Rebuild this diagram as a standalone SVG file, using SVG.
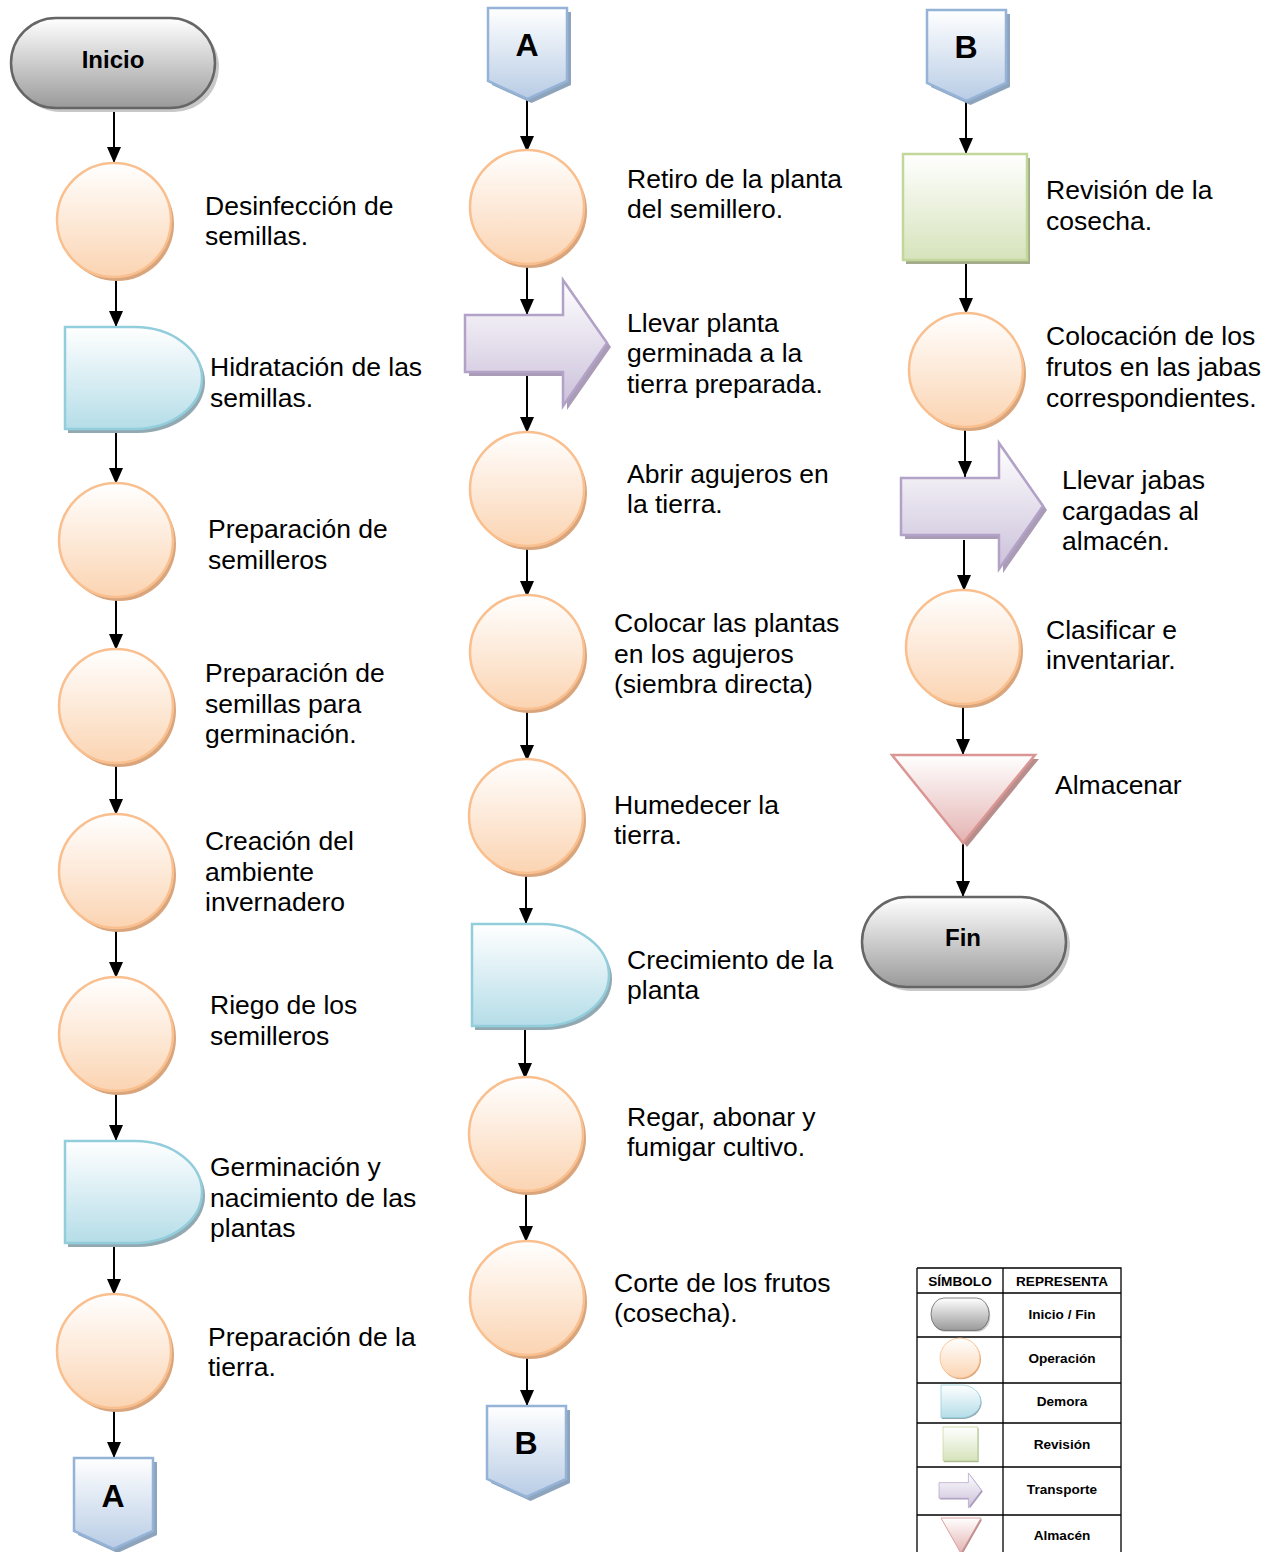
<svg xmlns="http://www.w3.org/2000/svg" xmlns:xlink="http://www.w3.org/1999/xlink" width="1280" height="1552" viewBox="0 0 1280 1552">
<style>
.lbl{font-family:"Liberation Sans",Arial,sans-serif;font-size:26.5px;fill:#000}
.bold{font-family:"Liberation Sans",Arial,sans-serif;font-weight:bold;fill:#000;text-anchor:middle}
.leg{font-family:"Liberation Sans",Arial,sans-serif;font-weight:bold;font-size:13.6px;fill:#000;text-anchor:middle}
.conn line{stroke:#000;stroke-width:2;marker-end:url(#ah)}
.grid{stroke:#000;stroke-width:1.3;fill:none}
</style>
<defs>
<marker id="ah" viewBox="0 0 16 14" refX="16" refY="7" markerWidth="16" markerHeight="14" markerUnits="userSpaceOnUse" orient="auto"><path d="M0,0 L16,7 L0,14 Z" fill="#000"/></marker>
<linearGradient id="gT" x1="0" y1="0" x2="0" y2="1"><stop offset="0" stop-color="#ffffff"/><stop offset="1" stop-color="#9a9a9a"/></linearGradient>
<linearGradient id="gO" x1="0" y1="0" x2="0" y2="1"><stop offset="0" stop-color="#ffffff"/><stop offset="1" stop-color="#fbd4b2"/></linearGradient>
<linearGradient id="gD" x1="0" y1="0" x2="0" y2="1"><stop offset="0" stop-color="#ffffff"/><stop offset="1" stop-color="#b5dde8"/></linearGradient>
<linearGradient id="gR" x1="0" y1="0" x2="0" y2="1"><stop offset="0" stop-color="#ffffff"/><stop offset="1" stop-color="#d6e3bb"/></linearGradient>
<linearGradient id="gP" x1="0" y1="0" x2="0" y2="1"><stop offset="0" stop-color="#ffffff"/><stop offset="1" stop-color="#cbc0da"/></linearGradient>
<linearGradient id="gA" x1="0" y1="0" x2="0" y2="1"><stop offset="0" stop-color="#ffffff"/><stop offset="1" stop-color="#e4b3b2"/></linearGradient>
<linearGradient id="gC" x1="0" y1="0" x2="0" y2="1"><stop offset="0" stop-color="#ffffff"/><stop offset="1" stop-color="#b8cce5"/></linearGradient>
<g id="term"><rect x="4" y="4" width="204" height="90" rx="45" fill="#c8c8c8"/><rect x="0" y="0" width="204" height="90" rx="45" fill="url(#gT)" stroke="#666" stroke-width="2.5"/></g>
<g id="op"><circle cx="3" cy="4" r="57" fill="#d9a57c"/><circle cx="0" cy="0" r="57" fill="url(#gO)" stroke="#f9bf8e" stroke-width="2.5"/></g>
<g id="dem"><path d="M3,4 H73 A67,51 0 0 1 73,106 H3 Z" fill="#92a9b2"/><path d="M0,0 H70 A67,51 0 0 1 70,102 H0 Z" fill="url(#gD)" stroke="#92cddc" stroke-width="2.5"/></g>
<g id="rev"><rect x="3" y="4" width="124" height="106" fill="#a3ab8b"/><rect x="0" y="0" width="124" height="106" fill="url(#gR)" stroke="#c3d69b" stroke-width="2.5"/></g>
<g id="tr"><path d="M4,39 H102 V4 L146,67 L102,130 V96 H4 Z" fill="#aa9cb7"/><path d="M0,35 H98 V0 L142,63 L98,126 V92 H0 Z" fill="url(#gP)" stroke="#b3a2c7" stroke-width="2.5"/></g>
<g id="alm"><path d="M4,4 H147 L75,92 Z" fill="#b88e8d"/><path d="M0,0 H143 L71,88 Z" fill="url(#gA)" stroke="#d99694" stroke-width="2.5"/></g>
<g id="cn"><path d="M4,4 H83 V77 L43.5,95 L4,77 Z" fill="#8ea4bd"/><path d="M0,0 H79 V73 L39.5,91 L0,73 Z" fill="url(#gC)" stroke="#95b3d7" stroke-width="2.5"/></g>
</defs>
<rect width="1280" height="1552" fill="#fff"/>

<g class="conn" id="connectors">
<line x1="114" y1="108" x2="114" y2="163"/>
<line x1="116" y1="277" x2="116" y2="327"/>
<line x1="116" y1="430" x2="116" y2="484"/>
<line x1="116" y1="597" x2="116" y2="650"/>
<line x1="116" y1="762" x2="116" y2="815"/>
<line x1="116" y1="928" x2="116" y2="978"/>
<line x1="116" y1="1090" x2="116" y2="1141"/>
<line x1="114" y1="1244" x2="114" y2="1295"/>
<line x1="114" y1="1408" x2="114" y2="1458"/>
<line x1="527" y1="100" x2="527" y2="152"/>
<line x1="527" y1="262" x2="527" y2="315"/>
<line x1="527" y1="372" x2="527" y2="433"/>
<line x1="527" y1="545" x2="527" y2="597"/>
<line x1="527" y1="708" x2="527" y2="761"/>
<line x1="526" y1="872" x2="526" y2="924"/>
<line x1="525" y1="1026" x2="525" y2="1079"/>
<line x1="526" y1="1190" x2="526" y2="1242"/>
<line x1="527" y1="1354" x2="527" y2="1406"/>
<line x1="966" y1="102" x2="966" y2="154"/>
<line x1="966" y1="262" x2="966" y2="314"/>
<line x1="965" y1="427" x2="965" y2="477"/>
<line x1="964" y1="540" x2="964" y2="591"/>
<line x1="963" y1="703" x2="963" y2="755"/>
<line x1="963" y1="843" x2="963" y2="897"/>
</g>

<!-- Column 1 -->
<g id="inicio"><use href="#term" x="11" y="18"/><text class="bold" x="113" y="68" font-size="24">Inicio</text></g>
<g id="c1n1"><use href="#op" x="114" y="220"/><text class="lbl" x="205" y="215">Desinfección de</text><text class="lbl" x="205" y="245">semillas.</text></g>
<g id="c1n2"><use href="#dem" x="65" y="327"/><text class="lbl" x="210" y="376">Hidratación de las</text><text class="lbl" x="210" y="407">semillas.</text></g>
<g id="c1n3"><use href="#op" x="116" y="540"/><text class="lbl" x="208" y="538">Preparación de</text><text class="lbl" x="208" y="569">semilleros</text></g>
<g id="c1n4"><use href="#op" x="116" y="706"/><text class="lbl" x="205" y="682">Preparación de</text><text class="lbl" x="205" y="713">semillas para</text><text class="lbl" x="205" y="743">germinación.</text></g>
<g id="c1n5"><use href="#op" x="116" y="871"/><text class="lbl" x="205" y="850">Creación del</text><text class="lbl" x="205" y="881">ambiente</text><text class="lbl" x="205" y="911">invernadero</text></g>
<g id="c1n6"><use href="#op" x="116" y="1034"/><text class="lbl" x="210" y="1014">Riego de los</text><text class="lbl" x="210" y="1045">semilleros</text></g>
<g id="c1n7"><use href="#dem" x="65" y="1141"/><text class="lbl" x="210" y="1176">Germinación y</text><text class="lbl" x="210" y="1207">nacimiento de las</text><text class="lbl" x="210" y="1237">plantas</text></g>
<g id="c1n8"><use href="#op" x="114" y="1351"/><text class="lbl" x="208" y="1346">Preparación de la</text><text class="lbl" x="208" y="1376">tierra.</text></g>
<g id="connA1"><use href="#cn" x="74" y="1458"/><text class="bold" x="113" y="1507" font-size="32">A</text></g>

<!-- Column 2 -->
<g id="connA2"><use href="#cn" x="488" y="8"/><text class="bold" x="527" y="56" font-size="32">A</text></g>
<g id="c2n1"><use href="#op" x="527" y="207"/><text class="lbl" x="627" y="188">Retiro de la planta</text><text class="lbl" x="627" y="218">del semillero.</text></g>
<g id="c2n2"><use href="#tr" x="465" y="280"/><text class="lbl" x="627" y="332">Llevar planta</text><text class="lbl" x="627" y="362">germinada a la</text><text class="lbl" x="627" y="393">tierra preparada.</text></g>
<g id="c2n3"><use href="#op" x="527" y="489"/><text class="lbl" x="627" y="483">Abrir agujeros en</text><text class="lbl" x="627" y="513">la tierra.</text></g>
<g id="c2n4"><use href="#op" x="527" y="652"/><text class="lbl" x="614" y="632">Colocar las plantas</text><text class="lbl" x="614" y="663">en los agujeros</text><text class="lbl" x="614" y="693">(siembra directa)</text></g>
<g id="c2n5"><use href="#op" x="526" y="816"/><text class="lbl" x="614" y="814">Humedecer la</text><text class="lbl" x="614" y="844">tierra.</text></g>
<g id="c2n6"><use href="#dem" x="472" y="924"/><text class="lbl" x="627" y="969">Crecimiento de la</text><text class="lbl" x="627" y="999">planta</text></g>
<g id="c2n7"><use href="#op" x="526" y="1134"/><text class="lbl" x="627" y="1126">Regar, abonar y</text><text class="lbl" x="627" y="1156">fumigar cultivo.</text></g>
<g id="c2n8"><use href="#op" x="527" y="1298"/><text class="lbl" x="614" y="1292">Corte de los frutos</text><text class="lbl" x="614" y="1322">(cosecha).</text></g>
<g id="connB1"><use href="#cn" x="487" y="1406"/><text class="bold" x="526" y="1454" font-size="32">B</text></g>

<!-- Column 3 -->
<g id="connB2"><use href="#cn" x="927" y="10"/><text class="bold" x="966" y="58" font-size="32">B</text></g>
<g id="c3n1"><use href="#rev" x="903" y="154"/><text class="lbl" x="1046" y="199">Revisión de la</text><text class="lbl" x="1046" y="230">cosecha.</text></g>
<g id="c3n2"><use href="#op" x="966" y="370"/><text class="lbl" x="1046" y="345">Colocación de los</text><text class="lbl" x="1046" y="376">frutos en las jabas</text><text class="lbl" x="1046" y="407">correspondientes.</text></g>
<g id="c3n3"><use href="#tr" x="901" y="443"/><text class="lbl" x="1062" y="489">Llevar jabas</text><text class="lbl" x="1062" y="520">cargadas al</text><text class="lbl" x="1062" y="550">almacén.</text></g>
<g id="c3n4"><use href="#op" x="963" y="647"/><text class="lbl" x="1046" y="639">Clasificar e</text><text class="lbl" x="1046" y="669">inventariar.</text></g>
<g id="c3n5"><use href="#alm" x="892" y="755"/><text class="lbl" x="1055" y="794">Almacenar</text></g>
<g id="fin"><use href="#term" x="862" y="897"/><text class="bold" x="963" y="946" font-size="24">Fin</text></g>

<!-- Legend -->
<g id="legend">
<path class="grid" d="M917,1268 H1121 V1560 M917,1268 V1560 M1003,1268 V1560 M917,1293 H1121 M917,1337 H1121 M917,1383 H1121 M917,1423 H1121 M917,1467 H1121 M917,1515 H1121"/>
<text class="leg" x="960" y="1286">SÍMBOLO</text>
<text class="leg" x="1062" y="1286">REPRESENTA</text>
<use href="#term" transform="translate(931,1298) scale(0.285,0.36)"/>
<use href="#op" transform="translate(960,1358) scale(0.35)"/>
<use href="#dem" transform="translate(941,1385) scale(0.29,0.32)"/>
<use href="#rev" transform="translate(943,1427) scale(0.28,0.32)"/>
<use href="#tr" transform="translate(939,1473) scale(0.3,0.275)"/>
<use href="#alm" transform="translate(941,1518) scale(0.28,0.4)"/>
<text class="leg" x="1062" y="1319">Inicio / Fin</text>
<text class="leg" x="1062" y="1363">Operación</text>
<text class="leg" x="1062" y="1406">Demora</text>
<text class="leg" x="1062" y="1449">Revisión</text>
<text class="leg" x="1062" y="1494">Transporte</text>
<text class="leg" x="1062" y="1540">Almacén</text>
</g>
</svg>
